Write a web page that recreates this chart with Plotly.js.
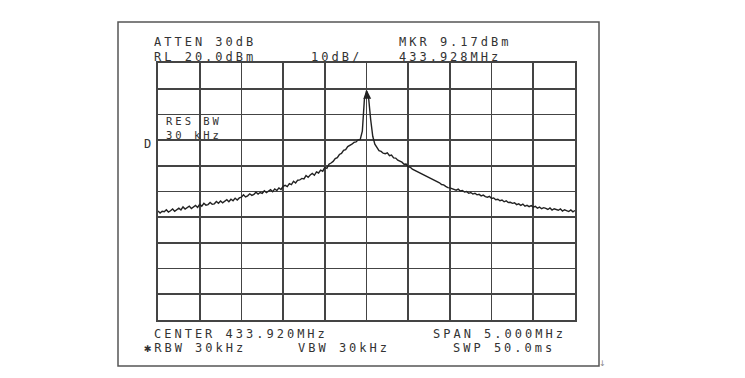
<!DOCTYPE html>
<html>
<head>
<meta charset="utf-8">
<script src="https://cdn.plot.ly/plotly-3.0.1.min.js"></script>
<style>
  html, body { margin: 0; padding: 0; background: #fff; }
  #chart { width: 745px; height: 378px; }
  .annotation-text { letter-spacing: 3px; }
</style>
</head>
<body>
<div id="chart"></div>
<script>
// Instrument settings (as printed on screen)
const centerMHz = 433.920;
const spanMHz = 5.000;
const refLevel = 20.0;     // dBm, top of screen
const dbPerDiv = 10;
const markerFreq = 433.928;
const markerLevel = 9.17;

// Sweep trace levels (dBm), 201 points across the span
const traceDbm = [
  -37.6,-38.4,-37.7,-37.9,-37.1,-38.0,-37.5,-36.8,-37.7,-36.9,
  -36.5,-37.2,-36.0,-36.8,-36.4,-35.7,-36.6,-36.0,-35.4,-36.2,
  -35.0,-35.7,-34.6,-35.3,-35.1,-34.3,-35.0,-34.8,-33.9,-34.6,
  -33.7,-34.4,-33.9,-33.2,-34.0,-33.0,-33.6,-32.6,-33.3,-32.5,
  -32.2,-31.3,-32.1,-31.7,-30.9,-31.5,-31.1,-30.3,-31.0,-30.4,
  -30.7,-29.7,-30.4,-29.9,-29.3,-30.1,-29.0,-29.6,-28.6,-29.2,
  -28.0,-27.6,-28.1,-26.9,-27.3,-26.0,-26.7,-25.6,-25.5,-24.9,
  -25.1,-23.8,-24.5,-23.6,-23.0,-23.7,-22.4,-22.8,-21.7,-22.1,
  -20.6,-21.0,-19.4,-18.9,-18.3,-17.2,-16.8,-15.6,-15.2,-14.0,
  -13.7,-12.5,-12.2,-11.6,-10.9,-10.7,-9.9,-9.7,-6.5,6.0,
  9.17,6.5,-2.0,-8.5,-11.6,-13.0,-14.1,-14.4,-15.1,-15.3,
  -15.0,-16.1,-15.8,-16.9,-17.0,-17.8,-18.1,-18.6,-19.4,-19.3,
  -20.3,-20.6,-21.3,-21.7,-22.3,-22.5,-23.0,-23.3,-23.9,-24.2,
  -24.8,-25.0,-25.6,-25.9,-26.4,-26.6,-27.3,-27.4,-28.0,-28.5,
  -28.6,-28.9,-29.0,-29.5,-29.1,-29.8,-29.6,-30.2,-30.0,-30.7,
  -30.4,-31.0,-30.7,-31.3,-31.1,-31.7,-31.4,-32.0,-32.2,-31.9,
  -32.7,-32.5,-33.2,-33.0,-33.6,-33.3,-34.0,-33.6,-34.3,-34.2,
  -34.6,-34.4,-35.1,-34.8,-35.4,-34.9,-35.7,-35.4,-35.9,-35.5,
  -36.1,-35.8,-36.5,-36.1,-36.7,-36.3,-36.6,-37.0,-36.4,-37.2,
  -36.7,-37.0,-37.3,-36.8,-37.6,-37.1,-37.4,-37.8,-37.2,-37.9,
  -37.4
];

// Screen annotation texts
const topLeft1 = "ATTEN 30dB";
const topLeft2 = "RL 20.0dBm";
const topMid = "10dB/";
const topRight1 = "MKR 9.17dBm";
const topRight2 = "433.928MHz";
const resBwLines = ["RES BW", "30 kHz"];
const sideLabel = "D";
const bottom1L = "CENTER 433.920MHz";
const bottom1R = "SPAN 5.000MHz";
const bottom2L = "✱RBW 30kHz";
const bottom2M = "VBW 30kHz";
const bottom2R = "SWP 50.0ms";

// sweep frequency bins (instrument definition: start + i * span/(N-1))
const startF = centerMHz - spanMHz / 2;
const stopF = centerMHz + spanMHz / 2;
const freqs = traceDbm.map((_, i) => startF + i * spanMHz / (traceDbm.length - 1));

// plot area geometry in pixels
const W = 745, H = 378;
const L = 158, R = 575, T = 63, B = 320;
const px = x => (x - L) / (R - L);
const py = y => (B - y) / (B - T);

const font = { family: "DejaVu Sans Mono, monospace", size: 12, color: "#333" };
function ann(text, x, y, size) {
  return {
    text: text, xref: "paper", yref: "paper", x: px(x), y: py(y),
    xanchor: "left", yanchor: "middle", align: "left", showarrow: false,
    font: Object.assign({}, font, size ? { size: size } : {})
  };
}

const traces = [
  {
    x: freqs, y: traceDbm, type: "scatter", mode: "lines",
    line: { color: "#222", width: 1.4 }, hoverinfo: "skip"
  },
  {
    x: [markerFreq], y: [markerLevel], type: "scatter", mode: "markers",
    marker: { symbol: "arrow-up", size: 8, color: "#222" }, hoverinfo: "skip",
    cliponaxis: false
  }
];

const layout = {
  width: W, height: H,
  margin: { l: L, r: W - R, t: T, b: H - B, pad: 0 },
  paper_bgcolor: "#fff", plot_bgcolor: "#fff",
  showlegend: false,
  xaxis: {
    range: [startF, stopF], dtick: spanMHz / 10, tick0: startF,
    showgrid: true, gridcolor: "#444", gridwidth: 1.6,
    showticklabels: false, ticks: "", zeroline: false,
    showline: true, mirror: true, linecolor: "#444", linewidth: 1.8
  },
  yaxis: {
    range: [refLevel - 10 * dbPerDiv, refLevel], dtick: dbPerDiv, tick0: refLevel,
    showgrid: true, gridcolor: "#444", gridwidth: 1.6,
    showticklabels: false, ticks: "", zeroline: false,
    showline: true, mirror: true, linecolor: "#444", linewidth: 1.8
  },
  shapes: [
    {
      type: "rect", xref: "paper", yref: "paper",
      x0: px(118), x1: px(599), y0: py(366), y1: py(22),
      line: { color: "#555", width: 1.5 }, fillcolor: "rgba(0,0,0,0)", layer: "below"
    }
  ],
  annotations: [
    ann(topLeft1, 152, 42),
    ann(topLeft2, 152, 56.5),
    ann(topMid, 309, 56.5),
    ann(topRight1, 397, 42),
    ann(topRight2, 397, 56.5),
    ann(resBwLines.join("<br>"), 164, 127.5, 10.5),
    ann(sideLabel, 142, 143.5),
    ann(bottom1L, 152, 334),
    ann(bottom1R, 431, 334),
    ann(bottom2L, 142, 347.5),
    ann(bottom2M, 296, 347.5),
    ann(bottom2R, 451, 347.5),
    { text: "↓", xref: "paper", yref: "paper", x: px(604), y: py(363),
      xanchor: "center", yanchor: "middle", showarrow: false,
      font: { family: "DejaVu Sans", size: 8, color: "#888" } }
  ]
};

Plotly.newPlot("chart", traces, layout, { displayModeBar: false, staticPlot: true });
</script>
</body>
</html>
